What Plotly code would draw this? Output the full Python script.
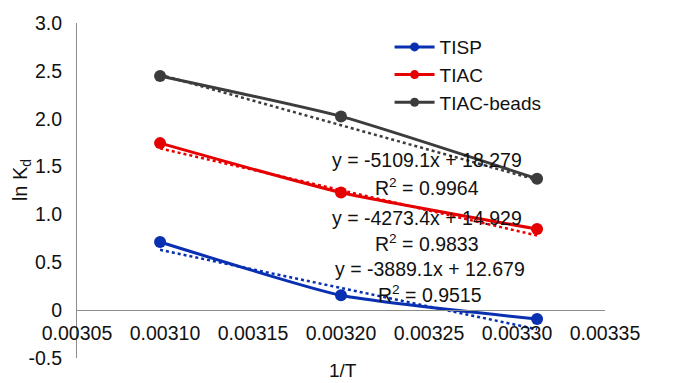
import plotly.graph_objects as go

# Data
x_vals = [0.0030972, 0.0032, 0.0033114]
tisp = [0.712, 0.155, -0.093]
tiac = [1.745, 1.229, 0.847]
tiac_beads = [2.447, 2.024, 1.373]

trend_x = [0.0030972, 0.0033114]
tisp_trend = [0.63, -0.20]
tiac_trend = [1.69, 0.78]
beads_trend = [2.46, 1.36]

series_names = ["TISP", "TIAC", "TIAC-beads"]
eq_texts = ["y = -5109.1x + 18.279", "y = -4273.4x + 14.929", "y = -3889.1x + 12.679"]
r2_texts = ["R<sup>2</sup> = 0.9964", "R<sup>2</sup> = 0.9833", "R<sup>2</sup> = 0.9515"]

y_tickvals = [-0.5, 0, 0.5, 1.0, 1.5, 2.0, 2.5, 3.0]
y_ticktext = ["-0.5", "0", "0.5", "1.0", "1.5", "2.0", "2.5", "3.0"]
x_tickvals = [0.00305, 0.00310, 0.00315, 0.00320, 0.00325, 0.00330, 0.00335]
x_ticktext = ["0.00305", "0.00310", "0.00315", "0.00320", "0.00325", "0.00330", "0.00335"]

colors = {"TISP": "#0830b0", "TIAC": "#e60000", "TIAC-beads": "#3c3c3c"}
FONT = "Liberation Sans, Arial, sans-serif"

W, H = 673, 383
L, R, T, B = 77, 68, 19, 25
pw, ph = W - L - R, H - T - B

def px2paper(px, py):
    return (px - L) / pw, (H - B - py) / ph

fig = go.Figure()

# trendlines (dotted)
for name, tr in zip(series_names, [tisp_trend, tiac_trend, beads_trend]):
    fig.add_trace(go.Scatter(x=trend_x, y=tr, mode="lines",
                             line=dict(color=colors[name], width=2.5, dash="dot"),
                             showlegend=False, hoverinfo="skip"))

# data series
for name, ys in zip(series_names, [tisp, tiac, tiac_beads]):
    fig.add_trace(go.Scatter(x=x_vals, y=ys, mode="lines+markers", name=name,
                             line=dict(color=colors[name], width=3, shape="spline",
                                       smoothing=0.5),
                             marker=dict(color=colors[name], size=12),
                             showlegend=False))
    # legend entry with smaller marker
    fig.add_trace(go.Scatter(x=[None], y=[None], mode="lines+markers", name=name,
                             line=dict(color=colors[name], width=3),
                             marker=dict(color=colors[name], size=9)))

# equation annotations
eq_pos = [(427, 158), (427, 216), (430, 268)]
r2_pos = [(427, 185), (427, 242), (430, 293)]
for txt, (px, py) in zip(eq_texts, eq_pos):
    xp, yp = px2paper(px, py)
    fig.add_annotation(x=xp, y=yp, xref="paper", yref="paper", text=txt,
                       showarrow=False, xanchor="center", yanchor="middle",
                       font=dict(family=FONT, size=19.5, color="#111111"))
for txt, (px, py) in zip(r2_texts, r2_pos):
    xp, yp = px2paper(px, py)
    fig.add_annotation(x=xp, y=yp, xref="paper", yref="paper", text=txt,
                       showarrow=False, xanchor="center", yanchor="middle",
                       font=dict(family=FONT, size=19.5, color="#111111"))

# axis titles
xp, yp = px2paper(343, 371)
fig.add_annotation(x=xp, y=yp, xref="paper", yref="paper", text="1/T",
                   showarrow=False, xanchor="center", yanchor="middle",
                   font=dict(family=FONT, size=19, color="#111111"))
xp, yp = px2paper(21, 178)
fig.add_annotation(x=xp, y=yp, xref="paper", yref="paper", text="ln K<sub>d</sub>",
                   showarrow=False, textangle=-90, xanchor="center", yanchor="middle",
                   font=dict(family=FONT, size=20, color="#111111"))

y_min, y_max = -0.5, 3.0
fig.update_layout(
    width=W, height=H,
    margin=dict(l=L, r=R, t=T, b=B, pad=0),
    paper_bgcolor="white", plot_bgcolor="white",
    font=dict(family=FONT, size=19, color="#111111"),
    xaxis=dict(range=[0.00305, 0.00335], tickvals=x_tickvals, ticktext=x_ticktext,
               showgrid=False, zeroline=False, showline=True, linecolor="#8c8c8c",
               linewidth=1, ticks="", anchor="free",
               position=(0 - y_min) / (y_max - y_min),
               tickfont=dict(size=19.5), ticklabelstandoff=5),
    yaxis=dict(range=[y_min, y_max], tickvals=y_tickvals, ticktext=y_ticktext,
               showgrid=False, zeroline=False, showline=True, linecolor="#8c8c8c",
               linewidth=1, ticks="", tickfont=dict(size=19.5), ticklabelstandoff=10),
    legend=dict(x=0.592, y=0.985, xanchor="left", yanchor="top",
                bgcolor="rgba(0,0,0,0)", font=dict(size=19),
                tracegroupgap=0, itemwidth=40),
    showlegend=True,
)

fig.write_html("out.html")
